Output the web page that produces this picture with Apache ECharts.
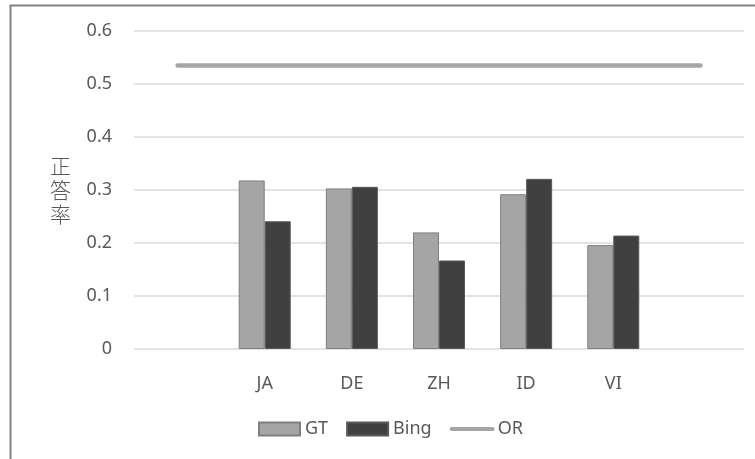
<!DOCTYPE html>
<html>
<head>
<meta charset="utf-8">
<script src="https://cdn.jsdelivr.net/npm/echarts@6/dist/echarts.min.js"></script>
<style>
  html, body { margin: 0; padding: 0; background: #fff; }
  #chart { width: 755px; height: 459px; }
</style>
</head>
<body>
<div id="chart"></div>
<script>
// first and last categories are blank spacers, OR spans all of them
const categories = ['', 'JA', 'DE', 'ZH', 'ID', 'VI', '']
const gtValues = [null, 0.318, 0.303, 0.220, 0.292, 0.196, null]
const bingValues = [null, 0.241, 0.306, 0.167, 0.321, 0.214, null]
const orValues = [0.535, 0.535, 0.535, 0.535, 0.535, 0.535, 0.535]

const font = '"Noto Sans", "Noto Sans CJK JP", sans-serif'
const textColor = '#595959'

const chart = echarts.init(document.getElementById('chart'))

const option = {
  animation: false,
  textStyle: { fontFamily: font },
  graphic: [
    {
      type: 'rect',
      shape: { x: 10.5, y: 5.5, width: 800, height: 500 },
      style: { fill: 'none', stroke: '#828282', lineWidth: 2 },
      silent: true
    }
  ],
  legend: {
    bottom: 16,
    left: 253,
    itemWidth: 41,
    itemHeight: 13,
    itemGap: 18,
    textStyle: {
      color: textColor,
      fontSize: 18,
      fontFamily: font
    },
    data: [
      { name: 'GT', icon: 'rect' },
      { name: 'Bing', icon: 'rect' },
      {
        name: 'OR',
        itemStyle: { opacity: 0 },
        lineStyle: { width: 4, cap: 'round', color: '#a5a5a5', opacity: 1 }
      }
    ]
  },
  grid: {
    top: 31,
    left: 134,
    right: 11,
    bottom: 110
  },
  xAxis: {
    type: 'category',
    data: categories,
    axisLine: { show: false },
    axisTick: { show: false },
    axisLabel: {
      interval: 0,
      color: textColor,
      fontSize: 18,
      margin: 26
    }
  },
  yAxis: {
    type: 'value',
    min: 0,
    max: 0.6,
    interval: 0.1,
    name: '正\n答\n率',
    nameLocation: 'middle',
    nameRotate: 0,
    nameGap: 63,
    nameTextStyle: {
      color: textColor,
      fontSize: 21,
      lineHeight: 24,
      fontFamily: '"Noto Sans CJK JP", sans-serif',
      fontWeight: 300
    },
    axisLine: { show: false },
    axisTick: { show: false },
    axisLabel: {
      color: textColor,
      fontSize: 18,
      margin: 22
    },
    splitLine: {
      lineStyle: { color: '#d9d9d9', width: 1.5 }
    }
  },
  series: [
    {
      name: 'GT',
      type: 'bar',
      data: gtValues,
      barWidth: 26,
      barGap: '0%',
      itemStyle: {
        color: '#a5a5a5',
        borderColor: '#7f7f7f',
        borderWidth: 1
      }
    },
    {
      name: 'Bing',
      type: 'bar',
      data: bingValues,
      barWidth: 26,
      itemStyle: {
        color: '#404040',
        borderColor: '#595959',
        borderWidth: 1
      }
    },
    {
      name: 'OR',
      type: 'line',
      data: orValues,
      symbol: 'none',
      lineStyle: {
        color: '#a5a5a5',
        width: 4.5,
        cap: 'round'
      },
      itemStyle: { color: '#a5a5a5' }
    }
  ]
}

chart.setOption(option)
window.addEventListener('resize', () => {
  chart.resize()
})
</script>
</body>
</html>
